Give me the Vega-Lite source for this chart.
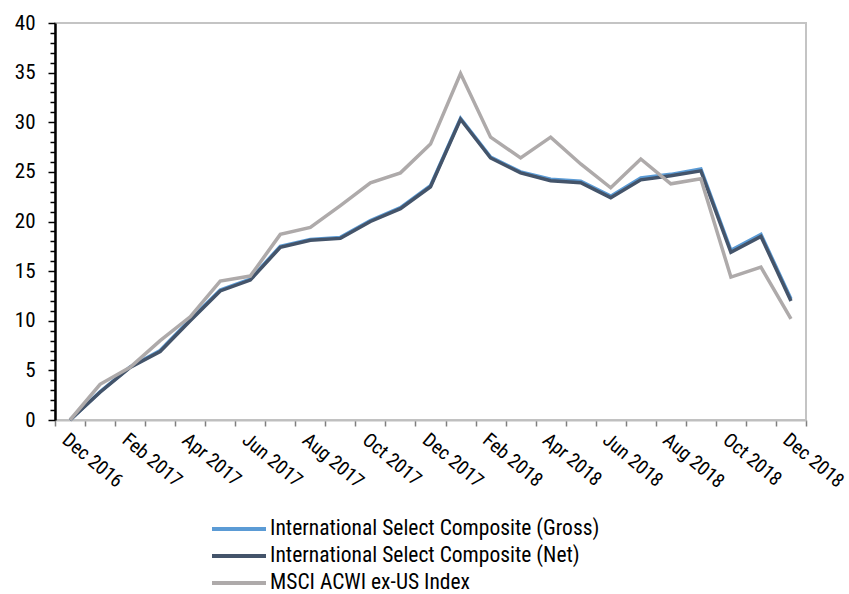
{
  "$schema": "https://vega.github.io/schema/vega-lite/v6.json",
  "width": 751,
  "height": 397,
  "autosize": {"type": "none"},
  "padding": {"left": 55, "top": 23, "right": 43, "bottom": 174},
  "background": "white",
  "config": {
    "view": {"stroke": "#c4c4c4", "strokeWidth": 2},
    "font": "Roboto Condensed, Liberation Sans Narrow, DejaVu Sans Condensed, Roboto, sans-serif"
  },
  "data": {
    "values": [
      {"month": "Dec 2016", "series": "International Select Composite (Gross)", "value": 0},
      {"month": "Jan 2017", "series": "International Select Composite (Gross)", "value": 2.85},
      {"month": "Feb 2017", "series": "International Select Composite (Gross)", "value": 5.35},
      {"month": "Mar 2017", "series": "International Select Composite (Gross)", "value": 7.0},
      {"month": "Apr 2017", "series": "International Select Composite (Gross)", "value": 10.1},
      {"month": "May 2017", "series": "International Select Composite (Gross)", "value": 13.1},
      {"month": "Jun 2017", "series": "International Select Composite (Gross)", "value": 14.2},
      {"month": "Jul 2017", "series": "International Select Composite (Gross)", "value": 17.5},
      {"month": "Aug 2017", "series": "International Select Composite (Gross)", "value": 18.2},
      {"month": "Sep 2017", "series": "International Select Composite (Gross)", "value": 18.4},
      {"month": "Oct 2017", "series": "International Select Composite (Gross)", "value": 20.1},
      {"month": "Nov 2017", "series": "International Select Composite (Gross)", "value": 21.4},
      {"month": "Dec 2017", "series": "International Select Composite (Gross)", "value": 23.6},
      {"month": "Jan 2018", "series": "International Select Composite (Gross)", "value": 30.4},
      {"month": "Feb 2018", "series": "International Select Composite (Gross)", "value": 26.5},
      {"month": "Mar 2018", "series": "International Select Composite (Gross)", "value": 25.0},
      {"month": "Apr 2018", "series": "International Select Composite (Gross)", "value": 24.25},
      {"month": "May 2018", "series": "International Select Composite (Gross)", "value": 24.05},
      {"month": "Jun 2018", "series": "International Select Composite (Gross)", "value": 22.55},
      {"month": "Jul 2018", "series": "International Select Composite (Gross)", "value": 24.4},
      {"month": "Aug 2018", "series": "International Select Composite (Gross)", "value": 24.75},
      {"month": "Sep 2018", "series": "International Select Composite (Gross)", "value": 25.3},
      {"month": "Oct 2018", "series": "International Select Composite (Gross)", "value": 17.1},
      {"month": "Nov 2018", "series": "International Select Composite (Gross)", "value": 18.7},
      {"month": "Dec 2018", "series": "International Select Composite (Gross)", "value": 12.2},
      {"month": "Dec 2016", "series": "International Select Composite (Net)", "value": 0},
      {"month": "Jan 2017", "series": "International Select Composite (Net)", "value": 2.8},
      {"month": "Feb 2017", "series": "International Select Composite (Net)", "value": 5.3},
      {"month": "Mar 2017", "series": "International Select Composite (Net)", "value": 6.9},
      {"month": "Apr 2017", "series": "International Select Composite (Net)", "value": 10.0},
      {"month": "May 2017", "series": "International Select Composite (Net)", "value": 13.0},
      {"month": "Jun 2017", "series": "International Select Composite (Net)", "value": 14.1},
      {"month": "Jul 2017", "series": "International Select Composite (Net)", "value": 17.4},
      {"month": "Aug 2017", "series": "International Select Composite (Net)", "value": 18.1},
      {"month": "Sep 2017", "series": "International Select Composite (Net)", "value": 18.3},
      {"month": "Oct 2017", "series": "International Select Composite (Net)", "value": 20.0},
      {"month": "Nov 2017", "series": "International Select Composite (Net)", "value": 21.3},
      {"month": "Dec 2017", "series": "International Select Composite (Net)", "value": 23.5},
      {"month": "Jan 2018", "series": "International Select Composite (Net)", "value": 30.3},
      {"month": "Feb 2018", "series": "International Select Composite (Net)", "value": 26.4},
      {"month": "Mar 2018", "series": "International Select Composite (Net)", "value": 24.9},
      {"month": "Apr 2018", "series": "International Select Composite (Net)", "value": 24.1},
      {"month": "May 2018", "series": "International Select Composite (Net)", "value": 23.9},
      {"month": "Jun 2018", "series": "International Select Composite (Net)", "value": 22.4},
      {"month": "Jul 2018", "series": "International Select Composite (Net)", "value": 24.2},
      {"month": "Aug 2018", "series": "International Select Composite (Net)", "value": 24.6},
      {"month": "Sep 2018", "series": "International Select Composite (Net)", "value": 25.1},
      {"month": "Oct 2018", "series": "International Select Composite (Net)", "value": 16.9},
      {"month": "Nov 2018", "series": "International Select Composite (Net)", "value": 18.5},
      {"month": "Dec 2018", "series": "International Select Composite (Net)", "value": 12.0},
      {"month": "Dec 2016", "series": "MSCI ACWI ex-US Index", "value": 0},
      {"month": "Jan 2017", "series": "MSCI ACWI ex-US Index", "value": 3.6},
      {"month": "Feb 2017", "series": "MSCI ACWI ex-US Index", "value": 5.3},
      {"month": "Mar 2017", "series": "MSCI ACWI ex-US Index", "value": 8.0},
      {"month": "Apr 2017", "series": "MSCI ACWI ex-US Index", "value": 10.4},
      {"month": "May 2017", "series": "MSCI ACWI ex-US Index", "value": 14.0},
      {"month": "Jun 2017", "series": "MSCI ACWI ex-US Index", "value": 14.5},
      {"month": "Jul 2017", "series": "MSCI ACWI ex-US Index", "value": 18.7},
      {"month": "Aug 2017", "series": "MSCI ACWI ex-US Index", "value": 19.4},
      {"month": "Sep 2017", "series": "MSCI ACWI ex-US Index", "value": 21.6},
      {"month": "Oct 2017", "series": "MSCI ACWI ex-US Index", "value": 23.9},
      {"month": "Nov 2017", "series": "MSCI ACWI ex-US Index", "value": 24.9},
      {"month": "Dec 2017", "series": "MSCI ACWI ex-US Index", "value": 27.8},
      {"month": "Jan 2018", "series": "MSCI ACWI ex-US Index", "value": 34.9},
      {"month": "Feb 2018", "series": "MSCI ACWI ex-US Index", "value": 28.5},
      {"month": "Mar 2018", "series": "MSCI ACWI ex-US Index", "value": 26.4},
      {"month": "Apr 2018", "series": "MSCI ACWI ex-US Index", "value": 28.5},
      {"month": "May 2018", "series": "MSCI ACWI ex-US Index", "value": 25.8},
      {"month": "Jun 2018", "series": "MSCI ACWI ex-US Index", "value": 23.4},
      {"month": "Jul 2018", "series": "MSCI ACWI ex-US Index", "value": 26.3},
      {"month": "Aug 2018", "series": "MSCI ACWI ex-US Index", "value": 23.8},
      {"month": "Sep 2018", "series": "MSCI ACWI ex-US Index", "value": 24.3},
      {"month": "Oct 2018", "series": "MSCI ACWI ex-US Index", "value": 14.4},
      {"month": "Nov 2018", "series": "MSCI ACWI ex-US Index", "value": 15.4},
      {"month": "Dec 2018", "series": "MSCI ACWI ex-US Index", "value": 10.2}
    ]
  },
  "mark": {"type": "line", "strokeWidth": 3.5},
  "encoding": {
    "x": {
      "field": "month",
      "type": "ordinal",
      "sort": null,
      "scale": {"type": "band", "paddingInner": 0, "paddingOuter": 0},
      "bandPosition": 0.5,
      "axis": {
        "title": null,
        "tickBand": "extent",
        "labelAngle": 40,
        "labelAlign": "left",
        "labelBaseline": "top",
        "labelFontSize": 19.5,
        "labelPadding": 4,
        "labelColor": "black",
        "labelOverlap": false,
        "labelExpr": "indexof(['Dec','Feb','Apr','Jun','Aug','Oct'], slice(datum.label, 0, 3)) >= 0 ? datum.label : ''",
        "tickSize": 6,
        "tickColor": "#7f7f7f",
        "tickWidth": 1.5,
        "domainColor": "#bfbfbf",
        "domainWidth": 2,
        "grid": false
      }
    },
    "y": {
      "field": "value",
      "type": "quantitative",
      "scale": {"domain": [0, 40], "nice": false},
      "axis": {
        "title": null,
        "values": [0,1,2,3,4,5,6,7,8,9,10,11,12,13,14,15,16,17,18,19,20,21,22,23,24,25,26,27,28,29,30,31,32,33,34,35,36,37,38,39,40],
        "labelExpr": "datum.value % 5 === 0 ? datum.label : ''",
        "labelOverlap": false,
        "labelFontSize": 21,
        "labelColor": "black",
        "labelPadding": 13,
        "tickSize": {"condition": {"test": "datum.value % 5 === 0", "value": 7}, "value": 5},
        "tickColor": "black",
        "tickWidth": 1.5,
        "domainColor": "black",
        "domainWidth": 2.5,
        "grid": false
      }
    },
    "color": {
      "field": "series",
      "type": "nominal",
      "scale": {
        "domain": ["International Select Composite (Gross)", "International Select Composite (Net)", "MSCI ACWI ex-US Index"],
        "range": ["#5b9bd5", "#44546a", "#aeaaaa"]
      },
      "legend": {
        "orient": "none",
        "legendX": 173,
        "legendY": 495,
        "title": null,
        "padding": 0,
        "symbolType": "M-3,0H3",
        "symbolSize": 324,
        "symbolStrokeWidth": 4,
        "labelFontSize": 21.5,
        "labelColor": "black",
        "labelOffset": 20,
        "rowPadding": 5,
        "labelLimit": 500
      }
    }
  }
}
